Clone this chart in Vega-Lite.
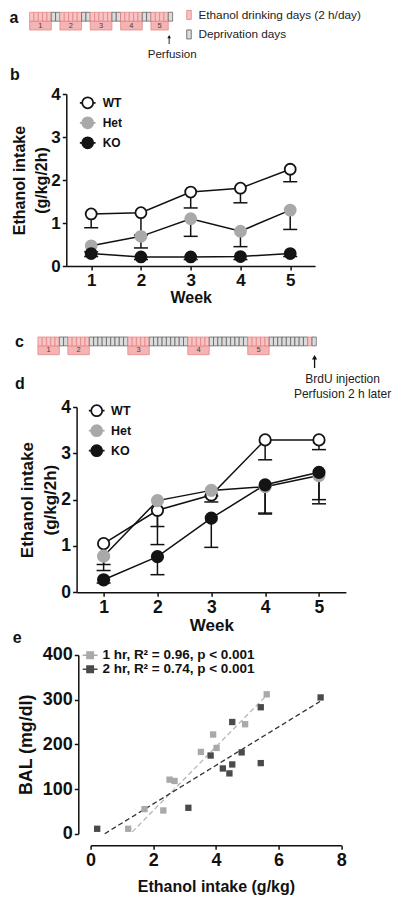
{
  "$schema": "https://vega.github.io/schema/vega-lite/v6.json",
  "padding": {"left": 8.6, "top": 9, "right": 2, "bottom": 2},
  "background": "white",
  "bounds": "flush",
  "spacing": 0,
  "resolve": {
    "scale": {"fill": "independent", "stroke": "independent", "color": "independent"},
    "legend": {"fill": "independent", "stroke": "independent", "color": "independent"}
  },
  "datasets": {
    "a_days": [
      {"s":0,"e":1,"t":"E"},{"s":1,"e":2,"t":"E"},{"s":2,"e":3,"t":"E"},{"s":3,"e":4,"t":"E"},{"s":4,"e":5,"t":"E"},
      {"s":5,"e":6,"t":"D"},{"s":6,"e":7,"t":"D"},
      {"s":7,"e":8,"t":"E"},{"s":8,"e":9,"t":"E"},{"s":9,"e":10,"t":"E"},{"s":10,"e":11,"t":"E"},{"s":11,"e":12,"t":"E"},
      {"s":12,"e":13,"t":"D"},{"s":13,"e":14,"t":"D"},
      {"s":14,"e":15,"t":"E"},{"s":15,"e":16,"t":"E"},{"s":16,"e":17,"t":"E"},{"s":17,"e":18,"t":"E"},{"s":18,"e":19,"t":"E"},
      {"s":19,"e":20,"t":"D"},{"s":20,"e":21,"t":"D"},
      {"s":21,"e":22,"t":"E"},{"s":22,"e":23,"t":"E"},{"s":23,"e":24,"t":"E"},{"s":24,"e":25,"t":"E"},{"s":25,"e":26,"t":"E"},
      {"s":26,"e":27,"t":"D"},{"s":27,"e":28,"t":"D"},
      {"s":28,"e":29,"t":"E"},{"s":29,"e":30,"t":"E"},{"s":30,"e":31,"t":"E"},{"s":31,"e":32,"t":"E"},
      {"s":32,"e":33,"t":"D"}
    ],
    "a_weeks": [
      {"week":"1","s":0,"e":5,"mid":2.5},{"week":"2","s":7,"e":12,"mid":9.5},{"week":"3","s":14,"e":19,"mid":16.5},
      {"week":"4","s":21,"e":26,"mid":23.5},{"week":"5","s":28,"e":32,"mid":30}
    ],
    "a_event": [{"event":"Perfusion","day":32.2}],
    "c_days": [
      {"s":0,"e":1,"t":"E"},{"s":1,"e":2,"t":"E"},{"s":2,"e":3,"t":"E"},{"s":3,"e":4,"t":"E"},{"s":4,"e":5,"t":"E"},
      {"s":5,"e":6,"t":"D"},{"s":6,"e":7,"t":"D"},
      {"s":7,"e":8,"t":"E"},{"s":8,"e":9,"t":"E"},{"s":9,"e":10,"t":"E"},{"s":10,"e":11,"t":"E"},{"s":11,"e":12,"t":"E"},
      {"s":12,"e":13,"t":"D"},{"s":13,"e":14,"t":"D"},{"s":14,"e":15,"t":"D"},{"s":15,"e":16,"t":"D"},{"s":16,"e":17,"t":"D"},{"s":17,"e":18,"t":"D"},{"s":18,"e":19,"t":"D"},{"s":19,"e":20,"t":"D"},{"s":20,"e":21,"t":"D"},
      {"s":21,"e":22,"t":"E"},{"s":22,"e":23,"t":"E"},{"s":23,"e":24,"t":"E"},{"s":24,"e":25,"t":"E"},{"s":25,"e":26,"t":"E"},
      {"s":26,"e":27,"t":"D"},{"s":27,"e":28,"t":"D"},{"s":28,"e":29,"t":"D"},{"s":29,"e":30,"t":"D"},{"s":30,"e":31,"t":"D"},{"s":31,"e":32,"t":"D"},{"s":32,"e":33,"t":"D"},{"s":33,"e":34,"t":"D"},{"s":34,"e":35,"t":"D"},
      {"s":35,"e":36,"t":"E"},{"s":36,"e":37,"t":"E"},{"s":37,"e":38,"t":"E"},{"s":38,"e":39,"t":"E"},{"s":39,"e":40,"t":"E"},
      {"s":40,"e":41,"t":"D"},{"s":41,"e":42,"t":"D"},{"s":42,"e":43,"t":"D"},{"s":43,"e":44,"t":"D"},{"s":44,"e":45,"t":"D"},{"s":45,"e":46,"t":"D"},{"s":46,"e":47,"t":"D"},{"s":47,"e":48,"t":"D"},{"s":48,"e":49,"t":"D"},
      {"s":49,"e":50,"t":"E"},{"s":50,"e":51,"t":"E"},{"s":51,"e":52,"t":"E"},{"s":52,"e":53,"t":"E"},{"s":53,"e":54,"t":"E"},
      {"s":54,"e":55,"t":"D"},{"s":55,"e":56,"t":"D"},{"s":56,"e":57,"t":"D"},{"s":57,"e":58,"t":"D"},{"s":58,"e":59,"t":"D"},{"s":59,"e":60,"t":"D"},{"s":60,"e":61,"t":"D"},{"s":61,"e":62,"t":"D"},{"s":62,"e":63,"t":"D"},
      {"s":63,"e":64,"t":"E"},
      {"s":64,"e":65,"t":"D"}
    ],
    "c_weeks": [
      {"week":"1","s":0,"e":5,"mid":2.5},{"week":"2","s":7,"e":12,"mid":9.5},{"week":"3","s":21,"e":26,"mid":23.5},
      {"week":"4","s":35,"e":40,"mid":37.5},{"week":"5","s":49,"e":54,"mid":51.5}
    ],
    "c_event": [{"event":"BrdU injection\nPerfusion 2 h later","day":64.6}],
    "b": [
      {"week":1,"genotype":"WT","mean":1.21,"lower":0.89},{"week":2,"genotype":"WT","mean":1.24,"lower":0.72},{"week":3,"genotype":"WT","mean":1.72,"lower":1.35},{"week":4,"genotype":"WT","mean":1.81,"lower":1.47},{"week":5,"genotype":"WT","mean":2.25,"lower":1.96},
      {"week":1,"genotype":"Het","mean":0.47,"lower":0.33},{"week":2,"genotype":"Het","mean":0.69,"lower":0.42},{"week":3,"genotype":"Het","mean":1.10,"lower":0.69},{"week":4,"genotype":"Het","mean":0.81,"lower":0.45},{"week":5,"genotype":"Het","mean":1.30,"lower":0.85},
      {"week":1,"genotype":"KO","mean":0.29,"lower":0.22},{"week":2,"genotype":"KO","mean":0.21,"lower":0.15},{"week":3,"genotype":"KO","mean":0.21,"lower":0.15},{"week":4,"genotype":"KO","mean":0.22,"lower":0.15},{"week":5,"genotype":"KO","mean":0.29,"lower":0.22}
    ],
    "d": [
      {"week":1,"genotype":"WT","mean":1.05,"lower":0.60},{"week":2,"genotype":"WT","mean":1.77,"lower":1.42},{"week":3,"genotype":"WT","mean":2.10,"lower":1.95},{"week":4,"genotype":"WT","mean":3.29,"lower":2.86},{"week":5,"genotype":"WT","mean":3.29,"lower":3.08},
      {"week":1,"genotype":"Het","mean":0.78,"lower":0.47},{"week":2,"genotype":"Het","mean":1.98,"lower":1.03},{"week":3,"genotype":"Het","mean":2.20,"lower":2.08},{"week":4,"genotype":"Het","mean":2.28,"lower":1.69},{"week":5,"genotype":"Het","mean":2.52,"lower":1.91},
      {"week":1,"genotype":"KO","mean":0.27,"lower":0.20},{"week":2,"genotype":"KO","mean":0.77,"lower":0.38},{"week":3,"genotype":"KO","mean":1.60,"lower":0.97},{"week":4,"genotype":"KO","mean":2.32,"lower":1.71},{"week":5,"genotype":"KO","mean":2.59,"lower":2.00}
    ],
    "e_pts": [
      {"series":"1 hr","ethanol":1.2,"bal":11},{"series":"1 hr","ethanol":1.72,"bal":55},{"series":"1 hr","ethanol":2.32,"bal":52},{"series":"1 hr","ethanol":2.52,"bal":121},{"series":"1 hr","ethanol":2.68,"bal":118},
      {"series":"1 hr","ethanol":3.52,"bal":183},{"series":"1 hr","ethanol":3.91,"bal":222},{"series":"1 hr","ethanol":4.02,"bal":192},{"series":"1 hr","ethanol":4.93,"bal":245},{"series":"1 hr","ethanol":5.62,"bal":312},
      {"series":"2 hr","ethanol":0.21,"bal":11},{"series":"2 hr","ethanol":3.12,"bal":58},{"series":"2 hr","ethanol":3.83,"bal":175},{"series":"2 hr","ethanol":4.22,"bal":146},{"series":"2 hr","ethanol":4.43,"bal":135},
      {"series":"2 hr","ethanol":4.52,"bal":155},{"series":"2 hr","ethanol":4.52,"bal":250},{"series":"2 hr","ethanol":4.82,"bal":182},{"series":"2 hr","ethanol":5.43,"bal":158},{"series":"2 hr","ethanol":5.43,"bal":283},{"series":"2 hr","ethanol":7.34,"bal":305}
    ],
    "e_fit": [
      {"series":"1 hr","ethanol":1.33,"bal":4},{"series":"1 hr","ethanol":5.62,"bal":310},
      {"series":"2 hr","ethanol":0.45,"bal":0},{"series":"2 hr","ethanol":7.32,"bal":296}
    ]
  },
  "vconcat": [
    {
      "width": 143, "height": 82,
      "layer": [
        {
          "layer": [
            {
              "data": {"name": "a_weeks"},
              "mark": {"type": "rect", "fill": "#f5b3b3", "stroke": "#e28a8a", "strokeWidth": 0.8},
              "encoding": {
                "x": {"field": "s", "type": "quantitative", "scale": {"domain": [0, 33], "nice": false, "zero": false}, "axis": null},
                "x2": {"field": "e"},
                "y": {"datum": "week", "type": "nominal", "scale": {"domain": ["day", "week"], "range": [0.3, 18], "paddingInner": 0, "paddingOuter": 0}, "axis": null}
              }
            },
            {
              "data": {"name": "a_weeks"},
              "mark": {"type": "text", "fontSize": 7.5, "color": "#444", "font": "Liberation Sans"},
              "encoding": {
                "x": {"field": "mid", "type": "quantitative"},
                "y": {"datum": "week", "type": "nominal"},
                "text": {"field": "week"}
              }
            },
            {
              "data": {"name": "a_days"},
              "mark": {"type": "rect", "strokeWidth": 0.7},
              "encoding": {
                "x": {"field": "s", "type": "quantitative"},
                "x2": {"field": "e"},
                "y": {"datum": "day", "type": "nominal"},
                "fill": {"field": "t", "type": "nominal", "scale": {"domain": ["E", "D"], "range": ["#f8c3c3", "#dcdcdc"]},
                  "legend": {"title": null, "orient": "none", "legendX": 153.5, "legendY": -3, "symbolType": "M-0.5,-1H0.5V1H-0.5Z", "symbolSize": 81, "symbolStrokeWidth": 0.8, "labelFontSize": 11.8, "labelFontWeight": "normal", "labelColor": "#222", "labelOffset": 3.5, "rowPadding": 5.5, "padding": 0, "labelLimit": 0, "labelExpr": "datum.label == 'E' ? 'Ethanol drinking days (2 h/day)' : 'Deprivation days'"}},
                "stroke": {"field": "t", "type": "nominal", "scale": {"domain": ["E", "D"], "range": ["#e07f7f", "#555555"]},
                  "legend": {"title": null, "orient": "none", "legendX": 153.5, "legendY": -3, "symbolType": "M-0.5,-1H0.5V1H-0.5Z", "symbolSize": 81, "symbolStrokeWidth": 0.8, "labelFontSize": 11.8, "labelFontWeight": "normal", "labelColor": "#222", "labelOffset": 3.5, "rowPadding": 5.5, "padding": 0, "labelLimit": 0, "labelExpr": "datum.label == 'E' ? 'Ethanol drinking days (2 h/day)' : 'Deprivation days'"}}
              }
            },
            {
              "data": {"values": [{}]},
              "mark": {"type": "text", "text": "a", "align": "left", "baseline": "alphabetic", "dy": 6.6, "fontSize": 16, "fontWeight": "bold", "color": "#111", "font": "Liberation Sans"},
              "encoding": {"x": {"datum": -4.66}, "y": {"datum": "day", "type": "nominal"}}
            }
          ]
        },
        {
          "data": {"name": "a_event"},
          "encoding": {
            "x": {"field": "day", "type": "quantitative"},
            "y": {"datum": "event", "type": "nominal", "scale": {"domain": ["event"], "range": [22.5, 32.5], "paddingInner": 0, "paddingOuter": 0}, "axis": null}
          },
          "layer": [
            {"mark": {"type": "point", "shape": "M0,-1L0.4,-0.3L0.1,-0.3L0.1,1L-0.1,1L-0.1,-0.3L-0.4,-0.3Z", "filled": true, "color": "#111", "size": 81, "opacity": 1, "strokeWidth": 0}},
            {"mark": {"type": "text", "baseline": "top", "dx": 3, "dy": 9.5, "fontSize": 11.6, "color": "#222", "font": "Liberation Sans"}, "encoding": {"text": {"field": "event"}}}
          ]
        }
      ],
      "resolve": {"scale": {"y": "independent"}}
    },
    {
      "width": 286, "height": 172,
      "layer": [
        {"data": {"name": "b"},
          "mark": {"type": "rule", "color": "#111", "strokeWidth": 1.5},
          "encoding": {
            "x": {"field": "week", "type": "quantitative", "scale": {"domain": [0.5, 5.5], "range": [36.7, 285.5], "nice": false, "zero": false},
              "axis": {"values": [1, 2, 3, 4, 5], "format": "d", "title": "Week", "labelFontSize": 17, "titleFontSize": 16, "titlePadding": 1}},
            "y": {"field": "mean", "type": "quantitative", "scale": {"domain": [0, 4], "nice": false},
              "axis": {"values": [0, 1, 2, 3, 4], "format": "d", "offset": -36.7, "title": ["Ethanol intake", "(g/kg/2h)"], "titleFontSize": 16, "titleLineHeight": 22, "labelFontSize": 17, "titlePadding": 1}},
            "y2": {"field": "lower"}
          }},
        {"data": {"name": "b"},
          "mark": {"type": "tick", "orient": "horizontal", "color": "#111", "thickness": 1.5, "size": 14, "opacity": 1},
          "encoding": {"x": {"field": "week", "type": "quantitative"}, "y": {"field": "lower", "type": "quantitative"}}},
        {"data": {"name": "b"},
          "mark": {"type": "line", "color": "#111", "strokeWidth": 1.5},
          "encoding": {"x": {"field": "week", "type": "quantitative"}, "y": {"field": "mean", "type": "quantitative"}, "detail": {"field": "genotype"}}},
        {"data": {"name": "b"},
          "mark": {"type": "point", "shape": "circle", "filled": true, "size": 121, "strokeWidth": 1.8, "opacity": 1},
          "encoding": {
            "x": {"field": "week", "type": "quantitative"},
            "y": {"field": "mean", "type": "quantitative"},
            "fill": {"field": "genotype", "type": "nominal", "scale": {"domain": ["WT", "Het", "KO"], "range": ["#ffffff", "#a9a9a9", "#141414"]},
              "legend": {"title": null, "orient": "none", "legendX": 49.1, "legendY": -0.2, "symbolType": "M-0.7,0A0.7,0.7,0,1,0,0.7,0A0.7,0.7,0,1,0,-0.7,0ZM-1,0L-0.7,0M0.7,0L1,0", "symbolSize": 247, "symbolStrokeWidth": 1.8, "labelFontSize": 12, "labelFontWeight": "bold", "labelOffset": 6, "rowPadding": 0, "padding": 0}},
            "stroke": {"field": "genotype", "type": "nominal", "scale": {"domain": ["WT", "Het", "KO"], "range": ["#141414", "#a9a9a9", "#141414"]},
              "legend": {"title": null, "orient": "none", "legendX": 49.1, "legendY": -0.2, "symbolType": "M-0.7,0A0.7,0.7,0,1,0,0.7,0A0.7,0.7,0,1,0,-0.7,0ZM-1,0L-0.7,0M0.7,0L1,0", "symbolSize": 247, "symbolStrokeWidth": 1.8, "labelFontSize": 12, "labelFontWeight": "bold", "labelOffset": 6, "rowPadding": 0, "padding": 0}}
          }},
        {"data": {"values": [{}]},
          "mark": {"type": "text", "text": "b", "align": "left", "baseline": "alphabetic", "fontSize": 16, "fontWeight": "bold", "color": "#111", "font": "Liberation Sans"},
          "encoding": {"x": {"datum": -0.63}, "y": {"datum": 4.326}}}
      ]
    },
    {
      "width": 287, "height": 140.7,
      "layer": [
        {
          "layer": [
            {
              "data": {"name": "c_weeks"},
              "mark": {"type": "rect", "fill": "#f5b3b3", "stroke": "#e28a8a", "strokeWidth": 0.8},
              "encoding": {
                "x": {"field": "s", "type": "quantitative", "scale": {"domain": [0, 65], "range": [8.3, 286.7], "nice": false, "zero": false}, "axis": null},
                "x2": {"field": "e"},
                "y": {"datum": "week", "type": "nominal", "scale": {"domain": ["day", "week"], "range": [71, 88.7], "paddingInner": 0, "paddingOuter": 0}, "axis": null}
              }
            },
            {
              "data": {"name": "c_weeks"},
              "mark": {"type": "text", "fontSize": 7.5, "color": "#444", "font": "Liberation Sans"},
              "encoding": {
                "x": {"field": "mid", "type": "quantitative"},
                "y": {"datum": "week", "type": "nominal"},
                "text": {"field": "week"}
              }
            },
            {
              "data": {"name": "c_days"},
              "mark": {"type": "rect", "strokeWidth": 0.7},
              "encoding": {
                "x": {"field": "s", "type": "quantitative"},
                "x2": {"field": "e"},
                "y": {"datum": "day", "type": "nominal"},
                "fill": {"field": "t", "type": "nominal", "scale": {"domain": ["E", "D"], "range": ["#f8c3c3", "#dcdcdc"]}, "legend": null},
                "stroke": {"field": "t", "type": "nominal", "scale": {"domain": ["E", "D"], "range": ["#e07f7f", "#555555"]}, "legend": null}
              }
            },
            {
              "data": {"values": [{}]},
              "mark": {"type": "text", "text": "c", "align": "left", "baseline": "alphabetic", "dy": 5.3, "fontSize": 16, "fontWeight": "bold", "color": "#111", "font": "Liberation Sans"},
              "encoding": {"x": {"datum": -5.32}, "y": {"datum": "day", "type": "nominal"}}
            }
          ]
        },
        {
          "data": {"name": "c_event"},
          "encoding": {
            "x": {"field": "day", "type": "quantitative"},
            "y": {"datum": "event", "type": "nominal", "scale": {"domain": ["event"], "range": [90.5, 100.5], "paddingInner": 0, "paddingOuter": 0}, "axis": null}
          },
          "layer": [
            {"mark": {"type": "point", "shape": "M0,-1L0.4,-0.3L0.1,-0.3L0.1,1L-0.1,1L-0.1,-0.3L-0.4,-0.3Z", "filled": true, "color": "#111", "size": 169, "opacity": 1, "strokeWidth": 0}},
            {"mark": {"type": "text", "baseline": "top", "align": "center", "dx": 28, "dy": 12, "fontSize": 12, "lineHeight": 16, "lineBreak": "\n", "color": "#222", "font": "Liberation Sans"}, "encoding": {"text": {"field": "event"}}}
          ]
        }
      ],
      "resolve": {"scale": {"y": "independent"}}
    },
    {
      "width": 317, "height": 185.3,
      "layer": [
        {"data": {"name": "d"},
          "mark": {"type": "rule", "color": "#111", "strokeWidth": 1.5},
          "encoding": {
            "x": {"field": "week", "type": "quantitative", "scale": {"domain": [0.5, 5.5], "range": [47.1, 316.3], "nice": false, "zero": false},
              "axis": {"values": [1, 2, 3, 4, 5], "format": "d", "title": "Week", "labelFontSize": 17.5, "titleFontSize": 17, "titlePadding": 2}},
            "y": {"field": "mean", "type": "quantitative", "scale": {"domain": [0, 4], "nice": false},
              "axis": {"values": [0, 1, 2, 3, 4], "format": "d", "offset": -47, "title": ["Ethanol intake", "(g/kg/2h)"], "titleFontSize": 17, "titleLineHeight": 23.5, "labelFontSize": 17.5, "titlePadding": 1}},
            "y2": {"field": "lower"}
          }},
        {"data": {"name": "d"},
          "mark": {"type": "tick", "orient": "horizontal", "color": "#111", "thickness": 1.5, "size": 14, "opacity": 1},
          "encoding": {"x": {"field": "week", "type": "quantitative"}, "y": {"field": "lower", "type": "quantitative"}}},
        {"data": {"name": "d"},
          "mark": {"type": "line", "color": "#111", "strokeWidth": 1.5},
          "encoding": {"x": {"field": "week", "type": "quantitative"}, "y": {"field": "mean", "type": "quantitative"}, "detail": {"field": "genotype"}}},
        {"data": {"name": "d"},
          "mark": {"type": "point", "shape": "circle", "filled": true, "size": 130, "strokeWidth": 1.8, "opacity": 1},
          "encoding": {
            "x": {"field": "week", "type": "quantitative"},
            "y": {"field": "mean", "type": "quantitative"},
            "fill": {"field": "genotype", "type": "nominal", "scale": {"domain": ["WT", "Het", "KO"], "range": ["#ffffff", "#a9a9a9", "#141414"]},
              "legend": {"title": null, "orient": "none", "legendX": 58.1, "legendY": -5.3, "symbolType": "M-0.7,0A0.7,0.7,0,1,0,0.7,0A0.7,0.7,0,1,0,-0.7,0ZM-1,0L-0.7,0M0.7,0L1,0", "symbolSize": 247, "symbolStrokeWidth": 1.8, "labelFontSize": 12.5, "labelFontWeight": "bold", "labelOffset": 5.4, "rowPadding": 0, "padding": 0}},
            "stroke": {"field": "genotype", "type": "nominal", "scale": {"domain": ["WT", "Het", "KO"], "range": ["#141414", "#a9a9a9", "#141414"]},
              "legend": {"title": null, "orient": "none", "legendX": 58.1, "legendY": -5.3, "symbolType": "M-0.7,0A0.7,0.7,0,1,0,0.7,0A0.7,0.7,0,1,0,-0.7,0ZM-1,0L-0.7,0M0.7,0L1,0", "symbolSize": 247, "symbolStrokeWidth": 1.8, "labelFontSize": 12.5, "labelFontWeight": "bold", "labelOffset": 5.4, "rowPadding": 0, "padding": 0}}
          }},
        {"data": {"values": [{}]},
          "mark": {"type": "text", "text": "d", "align": "left", "baseline": "alphabetic", "fontSize": 16, "fontWeight": "bold", "color": "#111", "font": "Liberation Sans"},
          "encoding": {"x": {"datum": -0.644}, "y": {"datum": 4.397}}}
      ]
    },
    {
      "width": 312, "height": 240.7,
      "layer": [
        {
          "data": {"name": "e_fit"},
          "transform": [{"filter": "datum.series == '1 hr'"}],
          "mark": {"type": "line", "strokeDash": [5, 3], "strokeWidth": 1.3, "color": "#b5b5b5"},
          "encoding": {
            "x": {"field": "ethanol", "type": "quantitative", "scale": {"domain": [0, 8], "range": [61, 311.7], "nice": false, "zero": false},
              "axis": {"values": [0, 2, 4, 6, 8], "format": "d", "offset": 11.6, "title": "Ethanol intake (g/kg)", "labelFontSize": 18, "titleFontSize": 16, "titlePadding": 9}},
            "y": {"field": "bal", "type": "quantitative", "scale": {"domain": [0, 400], "range": [240.7, 62], "nice": false},
              "axis": {"values": [0, 100, 200, 300, 400], "format": "d", "offset": -48.7, "title": "BAL (mg/dl)", "labelFontSize": 18, "titleFontSize": 17.8, "titlePadding": 7}}
          }
        },
        {
          "data": {"name": "e_fit"},
          "transform": [{"filter": "datum.series == '2 hr'"}],
          "mark": {"type": "line", "strokeDash": [5, 3], "strokeWidth": 1.3, "color": "#333333"},
          "encoding": {
            "x": {"field": "ethanol", "type": "quantitative"},
            "y": {"field": "bal", "type": "quantitative"}
          }
        },
        {
          "data": {"name": "e_pts"},
          "mark": {"type": "point", "shape": "square", "filled": true, "size": 40, "opacity": 1, "strokeWidth": 0},
          "encoding": {
            "x": {"field": "ethanol", "type": "quantitative"},
            "y": {"field": "bal", "type": "quantitative"},
            "fill": {"field": "series", "type": "nominal", "scale": {"domain": ["1 hr", "2 hr"], "range": ["#a9a9a9", "#4a4a4a"]},
              "legend": {"title": null, "orient": "none", "legendX": 53.8, "legendY": 55.5, "symbolType": "M-0.6,-0.6H0.6V0.6H-0.6ZM-1.35,0H-0.6M0.6,0H1.35", "symbolSize": 121, "symbolStrokeWidth": 1.3, "labelFontSize": 13.5, "labelFontWeight": "bold", "labelOffset": 5.5, "rowPadding": -5.5, "padding": 0, "labelLimit": 0, "labelExpr": "datum.label == '1 hr' ? '1 hr, R² = 0.96, p < 0.001' : '2 hr, R² = 0.74, p < 0.001'"}},
            "stroke": {"field": "series", "type": "nominal", "scale": {"domain": ["1 hr", "2 hr"], "range": ["#a9a9a9", "#4a4a4a"]},
              "legend": {"title": null, "orient": "none", "legendX": 53.8, "legendY": 55.5, "symbolType": "M-0.6,-0.6H0.6V0.6H-0.6ZM-1.35,0H-0.6M0.6,0H1.35", "symbolSize": 121, "symbolStrokeWidth": 1.3, "labelFontSize": 13.5, "labelFontWeight": "bold", "labelOffset": 5.5, "rowPadding": -5.5, "padding": 0, "labelLimit": 0, "labelExpr": "datum.label == '1 hr' ? '1 hr, R² = 0.96, p < 0.001' : '2 hr, R² = 0.74, p < 0.001'"}}
          }
        },
        {
          "data": {"values": [{}]},
          "mark": {"type": "text", "text": "e", "align": "left", "baseline": "alphabetic", "fontSize": 16, "fontWeight": "bold", "color": "#111", "font": "Liberation Sans"},
          "encoding": {"x": {"datum": -2.483}, "y": {"datum": 427.5}}
        }
      ]
    }
  ],
  "config": {
    "view": {"stroke": null},
    "font": "Liberation Sans",
    "axis": {"grid": false, "domainColor": "#111", "tickColor": "#111", "domainWidth": 1.5, "tickWidth": 1.5, "tickSize": 4, "labelPadding": 2, "labelFont": "Liberation Sans", "titleFont": "Liberation Sans", "labelFontWeight": "bold", "titleFontWeight": "bold", "labelColor": "#111", "titleColor": "#111", "labelFlush": false, "labelOverlap": false, "minExtent": 0},
    "legend": {"labelFont": "Liberation Sans", "labelColor": "#111"}
  }
}
